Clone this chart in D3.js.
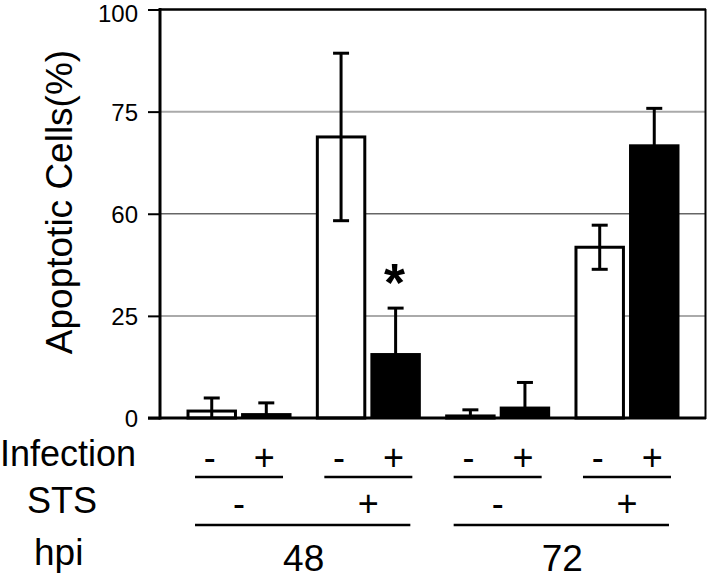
<!DOCTYPE html>
<html>
<head>
<meta charset="utf-8">
<script src="https://cdn.jsdelivr.net/npm/d3@7"></script>
<style>
  body { margin: 0; background: #fff; }
  text { font-family: "Liberation Sans", Arial, Helvetica, sans-serif; fill: #000; }
</style>
</head>
<body>
<div id="chart"></div>
<script>
"use strict";

// condition groups (STS x hpi), two bars each (infection - / +)
var groups = ["48-", "48+", "72-", "72+"];
var stsLabels = ["-", "+", "-", "+"];
var hpiLabels = ["48", "72"];
var infection = ["-", "+"];

// bar heights (% on the plotted scale)
var uninfected = [1.7, 68.8, 0.5, 41.8];
var infected = [1.2, 15.9, 2.8, 67.0];
var uninfectedErr = [3.2, 20.5, 1.5, 5.4];
var infectedErr = [2.5, 11.0, 5.9, 8.8];

// y ticks as printed on the figure
var yTicks = [0, 25, 50, 75, 100];
var yTickLabels = ["0", "25", "60", "75", "100"];

// significance mark
var starGroup = 1;
var starSeries = "+";

var width = 708, height = 578;

var svg = d3.select("#chart").append("svg")
    .attr("width", width)
    .attr("height", height);

var y = d3.scaleLinear()
    .domain([0, 100])
    .range([418, 9.5]);

var x0 = d3.scaleBand()
    .domain(groups)
    .range([160, 706])
    .paddingInner(0.188)
    .paddingOuter(0.205);

var x1 = d3.scaleBand()
    .domain(infection)
    .range([0, x0.bandwidth()])
    .paddingInner(0.075);

// rows of bar data
var rows = [];
groups.forEach(function(g, i) {
    rows.push({ group: g, gi: i, inf: "-", value: uninfected[i], err: uninfectedErr[i] });
    rows.push({ group: g, gi: i, inf: "+", value: infected[i], err: infectedErr[i] });
});

// gridlines
svg.selectAll(".grid")
    .data(yTicks.filter(function(d) { return d > 0 && d < 100; }))
    .enter().append("line")
    .attr("class", "grid")
    .attr("x1", 160).attr("x2", 706)
    .attr("y1", function(d) { return y(d); })
    .attr("y2", function(d) { return y(d); })
    .attr("stroke", function(d) { return d === 50 ? "#666" : "#aaa"; })
    .attr("stroke-width", function(d) { return d === 50 ? 1.3 : 2; });

// bars
svg.selectAll(".bar")
    .data(rows)
    .enter().append("rect")
    .attr("class", "bar")
    .attr("x", function(d) { return x0(d.group) + x1(d.inf) + (d.inf === "-" ? 1.5 : 0); })
    .attr("width", function(d) { return x1.bandwidth() - (d.inf === "-" ? 3 : 0); })
    .attr("y", function(d) { return y(d.value); })
    .attr("height", function(d) { return y(0) - y(d.value); })
    .attr("fill", function(d) { return d.inf === "-" ? "#fff" : "#000"; })
    .attr("stroke", function(d) { return d.inf === "-" ? "#000" : "none"; })
    .attr("stroke-width", 3);

// error bars
var cap = 8;
var eb = svg.selectAll(".err")
    .data(rows)
    .enter().append("g")
    .attr("class", "err")
    .attr("transform", function(d) {
        return "translate(" + (x0(d.group) + x1(d.inf) + x1.bandwidth() / 2) + ",0)";
    });

eb.append("line")
    .attr("y1", function(d) { return y(d.value + d.err); })
    .attr("y2", function(d) { return y(Math.max(0, d.value - d.err)); })
    .attr("stroke", "#000").attr("stroke-width", 3);

eb.append("line")
    .attr("x1", -cap).attr("x2", cap)
    .attr("y1", function(d) { return y(d.value + d.err); })
    .attr("y2", function(d) { return y(d.value + d.err); })
    .attr("stroke", "#000").attr("stroke-width", 3);

eb.filter(function(d) { return d.value - d.err > 0; })
    .append("line")
    .attr("x1", -cap).attr("x2", cap)
    .attr("y1", function(d) { return y(d.value - d.err); })
    .attr("y2", function(d) { return y(d.value - d.err); })
    .attr("stroke", "#000").attr("stroke-width", 3);

// asterisk
var starRow = rows.filter(function(d) { return d.gi === starGroup && d.inf === starSeries; })[0];
svg.append("text")
    .attr("x", x0(starRow.group) + x1(starRow.inf) + x1.bandwidth() / 2 - 1)
    .attr("y", y(starRow.value + starRow.err) - 7)
    .attr("text-anchor", "middle")
    .style("font-size", "54px")
    .style("font-weight", "bold")
    .text("*");

// frame
svg.append("line").attr("x1", 160).attr("x2", 706).attr("y1", 9.5).attr("y2", 9.5)
    .attr("stroke", "#000").attr("stroke-width", 2.5);
svg.append("line").attr("x1", 705.5).attr("x2", 705.5).attr("y1", 9).attr("y2", 419)
    .attr("stroke", "#000").attr("stroke-width", 2);

// y axis
var yAxis = d3.axisLeft(y)
    .tickValues(yTicks)
    .tickSize(12)
    .tickPadding(10)
    .tickFormat(function(d, i) { return yTickLabels[i]; });

var gy = svg.append("g")
    .attr("transform", "translate(160,0)")
    .call(yAxis);
gy.select(".domain").attr("stroke-width", 3).attr("d", "M0,8V419.5");
gy.selectAll(".tick line").attr("stroke-width", 2);
gy.selectAll(".tick text")
    .attr("dy", function(d) { return d === 100 ? "0.5em" : "0.36em"; })
    .style("font-size", "24px")
    .style("font-family", "'Liberation Sans', Arial, sans-serif");

// baseline
svg.append("line").attr("x1", 148).attr("x2", 706).attr("y1", y(0)).attr("y2", y(0))
    .attr("stroke", "#000").attr("stroke-width", 3);

// y title
svg.append("text")
    .attr("transform", "translate(72," + 202 + ") rotate(-90)")
    .attr("text-anchor", "middle")
    .style("font-size", "37px")
    .text("Apoptotic Cells(%)");

// condition table beneath the chart
var rowFont = "36px";
var signFont = "36px";

svg.append("text").attr("x", 0).attr("y", 466).style("font-size", rowFont).text("Infection");
svg.append("text").attr("x", 27).attr("y", 513).style("font-size", rowFont).text("STS");
svg.append("text").attr("x", 34).attr("y", 565).style("font-size", "37px").text("hpi");

svg.selectAll(".infLabel")
    .data(rows)
    .enter().append("text")
    .attr("class", "infLabel")
    .attr("x", function(d) { return x0(d.group) + x1(d.inf) + x1.bandwidth() / 2 - 2; })
    .attr("y", 470)
    .attr("text-anchor", "middle")
    .style("font-size", signFont)
    .text(function(d) { return d.inf; });

svg.selectAll(".infRule")
    .data(groups)
    .enter().append("line")
    .attr("x1", function(d) { return x0(d) + x0.bandwidth() / 2 - 44; })
    .attr("x2", function(d) { return x0(d) + x0.bandwidth() / 2 + 44; })
    .attr("y1", 477).attr("y2", 477)
    .attr("stroke", "#000").attr("stroke-width", 2.7);

svg.selectAll(".stsLabel")
    .data(groups)
    .enter().append("text")
    .attr("x", function(d) { return x0(d) + x0.bandwidth() / 2; })
    .attr("y", 516)
    .attr("text-anchor", "middle")
    .style("font-size", signFont)
    .text(function(d, i) { return stsLabels[i]; });

svg.selectAll(".hpiRule")
    .data(hpiLabels)
    .enter().append("line")
    .attr("x1", function(d, i) { return x0(groups[i * 2]) + x0.bandwidth() / 2 - 44; })
    .attr("x2", function(d, i) { return x0(groups[i * 2 + 1]) + x0.bandwidth() / 2 + 42; })
    .attr("y1", 525).attr("y2", 525)
    .attr("stroke", "#000").attr("stroke-width", 2.7);

svg.selectAll(".hpiLabel")
    .data(hpiLabels)
    .enter().append("text")
    .attr("x", function(d, i) {
        return (x0(groups[i * 2]) + x0(groups[i * 2 + 1]) + x0.bandwidth()) / 2;
    })
    .attr("y", 571)
    .attr("text-anchor", "middle")
    .style("font-size", "37px")
    .text(function(d) { return d; });
</script>
</body>
</html>
